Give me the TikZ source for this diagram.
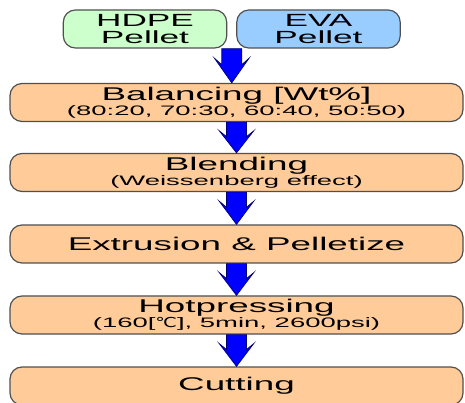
\documentclass[tikz,border=0pt]{standalone}
\usepackage{fontspec}
\setmainfont{Liberation Sans}[FakeStretch=2.0]
\newfontfamily\symfont{DejaVu Sans}[FakeStretch=1.4]
\usetikzlibrary{calc}

\definecolor{stepfill}{HTML}{FFCC99}
\definecolor{hdpefill}{HTML}{CCFFCC}
\definecolor{evafill}{HTML}{99CCFF}
\definecolor{boxline}{HTML}{505050}
\definecolor{arrowblue}{HTML}{0000FF}

\newcommand{\subline}{\fontsize{10.3}{11}\selectfont}
% fat blue arrow from #1 (top) down to #2 (tip)
\newcommand{\flowarrow}[2]{%
  \draw[flowarrow] let \p1=(#1), \p2=(#2), \n1={\y1-\y2} in
    (\x1-7.5pt,\y1) -- (\x1+7.5pt,\y1) -- (\x1+7.5pt,\y1-0.47*\n1)
    -- (\x1+13pt,\y1-0.28*\n1) -- (\x1,\y2) -- (\x1-13pt,\y1-0.28*\n1)
    -- (\x1-7.5pt,\y1-0.47*\n1) -- cycle;}

\tikzset{
  stepbox/.style={draw=boxline, line width=0.9pt, fill=stepfill, rounded corners=9pt,
    minimum width=339.75pt, minimum height=28.5pt, inner sep=0pt, align=center,
    font=\fontsize{13.8}{11.5}\selectfont},
  pelletbox/.style={stepbox, minimum width=122.5pt, font=\fontsize{13.2}{12.2}\selectfont},
  flowarrow/.style={fill=arrowblue, draw=arrowblue!45!black, line width=0.5pt}
}

\begin{document}
\begin{tikzpicture}[x=0.75pt, y=-0.75pt]
    \clip (0,0) rectangle (465,403);

    % raw materials
    \node[pelletbox, fill=hdpefill] (hdpe) at (145,29) {HDPE\\Pellet};
    \node[pelletbox, fill=evafill] (eva) at (318.5,29) {EVA\\Pellet};
    \coordinate (pellets) at ($(hdpe.south east)!0.5!(eva.south west)$);

    % process steps
    \node[stepbox] (balancing) at (236.5,102.5) {Balancing [Wt\%]\\{\subline (80:20, 70:30, 60:40, 50:50)}};
    \node[stepbox] (blending) at (236.5,172.5) {Blending\\{\subline (Weissenberg effect)}};
    \node[stepbox] (extrusion) at (236.5,244) {Extrusion \& Pelletize};
    \node[stepbox] (hotpress) at (236.5,315) {Hotpressing\\{\subline (160[{\symfont ℃}], 5min, 2600psi)}};
    \node[stepbox] (cutting) at (236.5,386) {Cutting};

    % arrows
    \flowarrow{pellets}{balancing.north}
    \flowarrow{balancing.south}{blending.north}
    \flowarrow{blending.south}{extrusion.north}
    \flowarrow{extrusion.south}{hotpress.north}
    \flowarrow{hotpress.south}{cutting.north}
\end{tikzpicture}
\end{document}
